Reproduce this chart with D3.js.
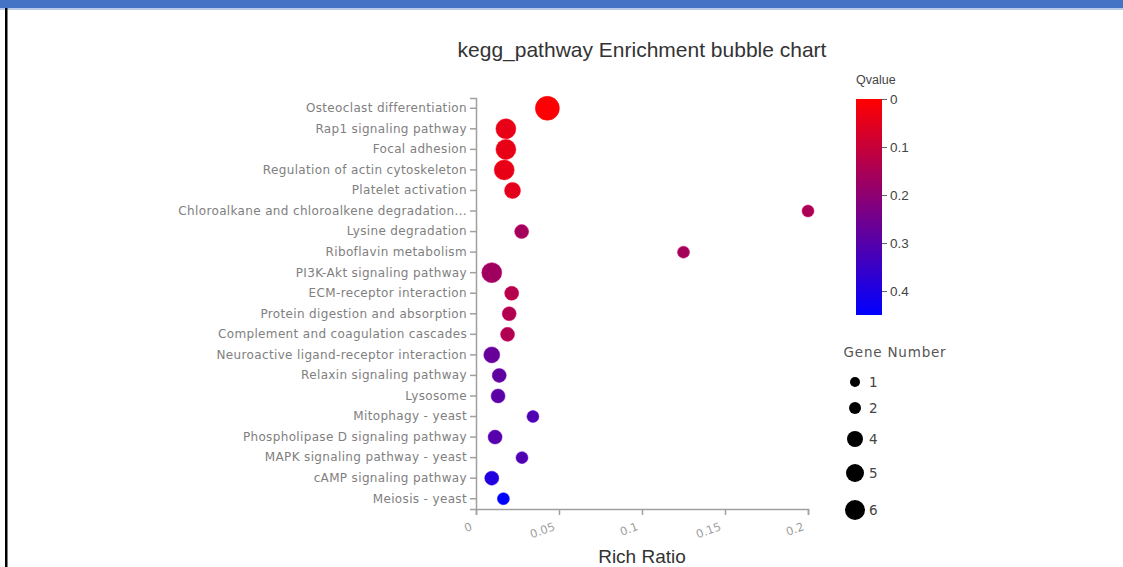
<!DOCTYPE html>
<html>
<head>
<meta charset="utf-8">
<script src="https://cdn.jsdelivr.net/npm/d3@7"></script>
<style>
  html, body { margin: 0; padding: 0; background: #fff; }
  svg { display: block; font-family: "Liberation Sans", Arial, sans-serif; }
</style>
</head>
<body>
<svg id="chart" width="1123" height="567"></svg>
<script>
// pathways, top to bottom
const pathways = [
  "Osteoclast differentiation",
  "Rap1 signaling pathway",
  "Focal adhesion",
  "Regulation of actin cytoskeleton",
  "Platelet activation",
  "Chloroalkane and chloroalkene degradation...",
  "Lysine degradation",
  "Riboflavin metabolism",
  "PI3K-Akt signaling pathway",
  "ECM-receptor interaction",
  "Protein digestion and absorption",
  "Complement and coagulation cascades",
  "Neuroactive ligand-receptor interaction",
  "Relaxin signaling pathway",
  "Lysosome",
  "Mitophagy - yeast",
  "Phospholipase D signaling pathway",
  "MAPK signaling pathway - yeast",
  "cAMP signaling pathway",
  "Meiosis - yeast"
];
const richRatio = [0.043, 0.018, 0.018, 0.017, 0.022, 0.200, 0.0275, 0.125, 0.0095, 0.0215,
                   0.020, 0.019, 0.0095, 0.014, 0.0133, 0.0343, 0.0115, 0.0277, 0.0095, 0.0165];
const qvalue = [0.005, 0.04, 0.04, 0.04, 0.05, 0.15, 0.16, 0.16, 0.17, 0.13,
                0.14, 0.14, 0.27, 0.28, 0.29, 0.31, 0.30, 0.31, 0.39, 0.45];
const geneNumber = [8, 6, 6, 6, 4, 2, 3, 2, 6, 3,
                    3, 3, 4, 3, 3, 2, 3, 2, 3, 2];

const xTicks = [0, 0.05, 0.1, 0.15, 0.2];
const qTicks = [0, 0.1, 0.2, 0.3, 0.4];
const legendSizes = [1, 2, 4, 5, 6];
const legendRows = [382, 408, 439, 473, 510];

const svg = d3.select("#chart");

// page frame
svg.append("rect").attr("x", 0).attr("y", 0).attr("width", 1123).attr("height", 8).attr("fill", "#4472c4");
svg.append("rect").attr("x", 0).attr("y", 8).attr("width", 1123).attr("height", 2).attr("fill", "#b9cbe8");
svg.append("rect").attr("x", 5).attr("y", 8).attr("width", 2.5).attr("height", 559).attr("fill", "#000");

// scales
const x = d3.scaleLinear().domain([0, 0.2]).range([476, 808]);
const y = d3.scaleBand().domain(pathways).range([98, 509]);
const color = d3.scaleLinear().domain([0, 0.45]).range(["#ff0000", "#0000ff"]).interpolate(d3.interpolateRgb);
const r = d3.scaleLinear().domain([1, 6]).range([5, 10]);

// title
svg.append("text")
  .attr("x", 642).attr("y", 57)
  .attr("text-anchor", "middle")
  .style("font-size", "21px").style("fill", "#333")
  .text("kegg_pathway Enrichment bubble chart");

// x axis
const xAxis = svg.append("g")
  .attr("transform", "translate(0,509)")
  .call(d3.axisBottom(x).tickValues(xTicks).tickSize(6).tickFormat(d3.format("")));
xAxis.selectAll("text")
  .attr("x", 0).attr("y", 0).attr("dy", "0.35em")
  .attr("text-anchor", "end")
  .attr("transform", "translate(-5,17) rotate(-20)")
  .style("font-family", "'DejaVu Sans', sans-serif")
  .style("font-size", "11.5px").style("fill", "#a0a0a0");

// y axis
const yAxis = svg.append("g")
  .attr("transform", "translate(476,0)")
  .call(d3.axisLeft(y).tickSize(6));
yAxis.selectAll("text")
  .style("font-family", "'DejaVu Sans', sans-serif")
  .style("font-size", "12px").style("letter-spacing", "0.35px")
  .style("fill", "#808080");

svg.selectAll(".domain, .tick line").attr("stroke", "#a0a0a0").attr("stroke-width", 1.5);

// x title
svg.append("text")
  .attr("x", 642).attr("y", 563)
  .attr("text-anchor", "middle")
  .style("font-size", "19px").style("fill", "#333")
  .text("Rich Ratio");

// bubbles
const data = pathways.map((p, i) => ({ p, rr: richRatio[i], q: qvalue[i], n: geneNumber[i] }));
svg.append("g").selectAll("circle")
  .data(data)
  .join("circle")
  .attr("cx", d => x(d.rr))
  .attr("cy", d => y(d.p) + y.bandwidth() / 2)
  .attr("r", d => r(d.n))
  .attr("fill", d => color(d.q))
  .attr("stroke", d => d3.color(color(d.q)).brighter(0.6))
  .attr("stroke-opacity", 0.5)
  .attr("stroke-width", 1);

// Qvalue colour bar
const qy = d3.scaleLinear().domain([0, 0.45]).range([99, 315]);
const defs = svg.append("defs");
const grad = defs.append("linearGradient")
  .attr("id", "qgrad").attr("x1", 0).attr("y1", 0).attr("x2", 0).attr("y2", 1);
grad.append("stop").attr("offset", "0%").attr("stop-color", color(0));
grad.append("stop").attr("offset", "100%").attr("stop-color", color(0.45));

svg.append("text")
  .attr("x", 856).attr("y", 84)
  .style("font-size", "12.5px").style("fill", "#444")
  .text("Qvalue");
svg.append("rect")
  .attr("x", 856).attr("y", qy(0))
  .attr("width", 26).attr("height", qy(0.45) - qy(0))
  .attr("fill", "url(#qgrad)");
const qAxis = svg.append("g")
  .attr("transform", "translate(882,0)")
  .call(d3.axisRight(qy).tickValues(qTicks).tickSize(5).tickFormat(d3.format("")));
qAxis.select(".domain").remove();
qAxis.selectAll(".tick line").attr("stroke", "#666");
qAxis.selectAll("text").style("font-size", "13.5px").style("fill", "#444");

// Gene Number legend
svg.append("text")
  .attr("x", 895).attr("y", 357)
  .attr("text-anchor", "middle")
  .style("font-family", "'DejaVu Sans', sans-serif")
  .style("font-size", "13.5px").style("letter-spacing", "0.8px").style("fill", "#555")
  .text("Gene Number");
const lg = svg.append("g").selectAll("g")
  .data(legendSizes)
  .join("g")
  .attr("transform", (d, i) => `translate(855,${legendRows[i]})`);
lg.append("circle").attr("r", d => r(d)).attr("fill", "#000");
lg.append("text")
  .attr("x", 14).attr("dy", "0.35em")
  .style("font-family", "'DejaVu Sans', sans-serif")
  .style("font-size", "13.5px").style("fill", "#444")
  .text(d => d);
</script>
</body>
</html>
